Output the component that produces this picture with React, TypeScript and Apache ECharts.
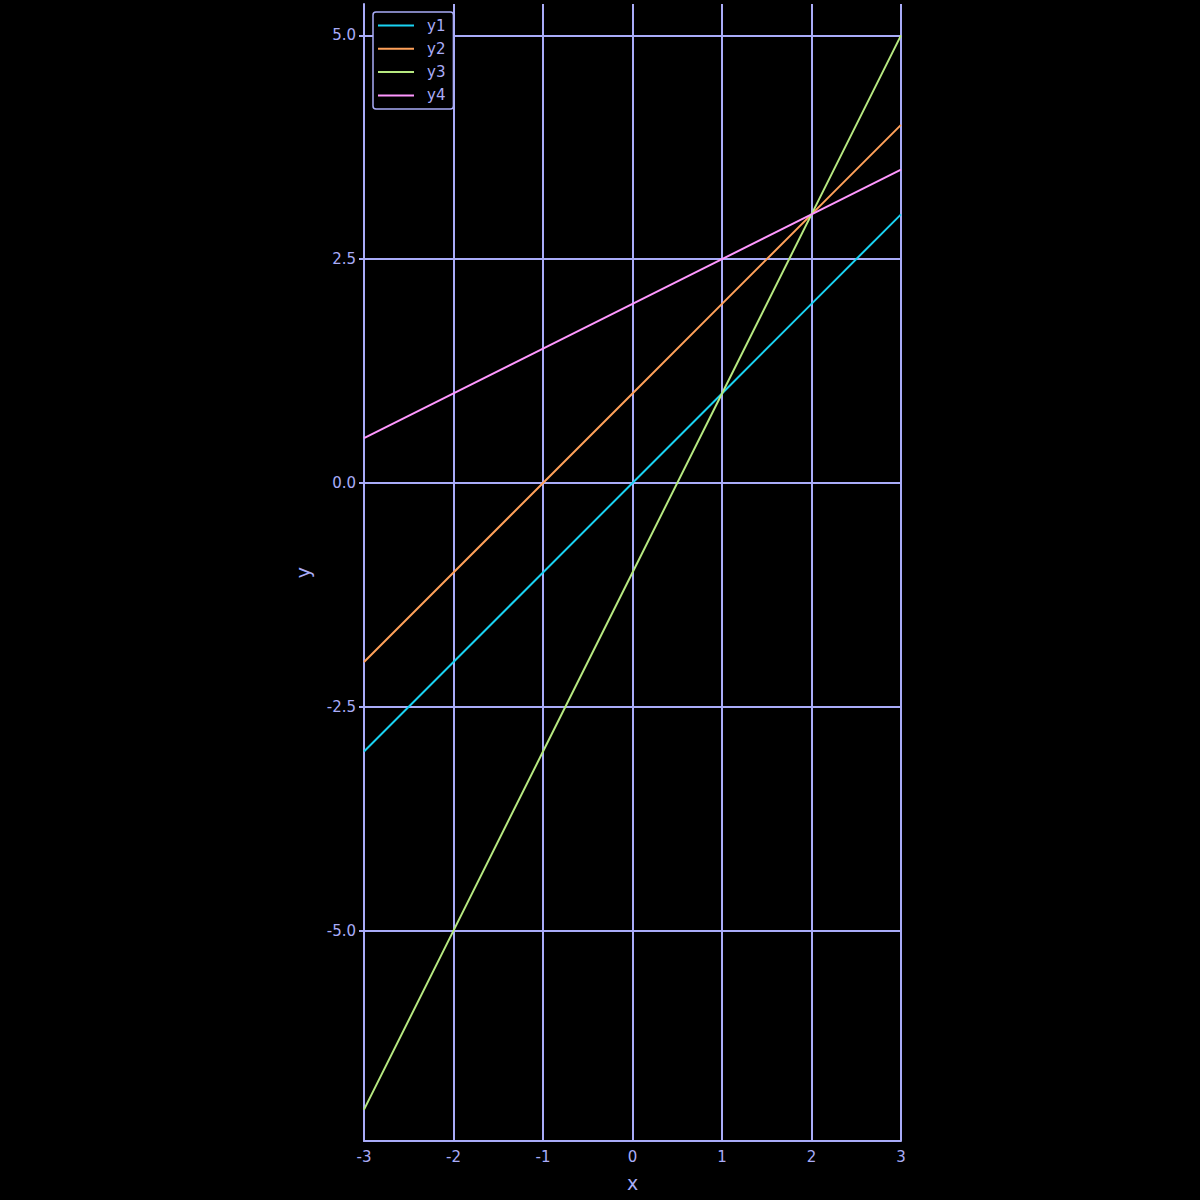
import React, { useEffect, useRef } from "react";
import * as echarts from "echarts";

const xValues = [-3, -2, -1, 0, 1, 2, 3];
const y1 = [-3, -2, -1, 0, 1, 2, 3];
const y2 = [-2, -1, 0, 1, 2, 3, 4];
const y3 = [-7, -5, -3, -1, 1, 3, 5];
const y4 = [0.5, 1, 1.5, 2, 2.5, 3, 3.5];
const seriesNames = ["y1", "y2", "y3", "y4"];
const seriesColors = ["#19d3f3", "#ffa15a", "#b6e880", "#ff97ff"];
const yTicks = [-5, -2.5, 0, 2.5, 5];

const AXIS = "#a9acf8";
const FONT = "DejaVu Sans";

export default function App() {
  const ref = useRef<HTMLDivElement>(null);
  useEffect(() => {
    const chart = echarts.init(ref.current!, null, { renderer: "svg" });
    const all = [y1, y2, y3, y4];
    chart.setOption({
      animation: false,
      backgroundColor: "#000000",
      textStyle: { fontFamily: FONT },
      grid: { left: 364, right: 299, top: 4, bottom: 59, containLabel: false },
      legend: {
        show: true,
        orient: "vertical",
        left: 373,
        top: 12,
        icon: "path://M0,0L36,0L36,2L0,2Z",
        itemWidth: 36,
        itemHeight: 2,
        itemGap: 8.3,
        padding: [6, 8, 6, 5],
        borderColor: AXIS,
        borderWidth: 1.5,
        borderRadius: 3,
        backgroundColor: "#000000",
        textStyle: { color: AXIS, fontSize: 15, fontFamily: FONT, padding: [0, 0, 0, 8] },
        data: seriesNames,
      },
      xAxis: {
        type: "value",
        min: -3,
        max: 3,
        interval: 1,
        name: "x",
        nameLocation: "middle",
        nameGap: 32,
        nameTextStyle: { color: AXIS, fontSize: 19, fontFamily: FONT },
        axisLine: { show: true, onZero: false, lineStyle: { color: AXIS, width: 2 } },
        axisTick: { show: false },
        axisLabel: { color: AXIS, fontSize: 15, margin: 8, fontFamily: FONT },
        splitLine: { show: true, lineStyle: { color: AXIS, width: 2 } },
      },
      yAxis: {
        type: "value",
        min: -7.35,
        max: 5.35,
        name: "y",
        nameLocation: "middle",
        nameGap: 52,
        nameTextStyle: { color: AXIS, fontSize: 19, fontFamily: FONT },
        axisLine: { show: true, onZero: false, lineStyle: { color: AXIS, width: 2 } },
        axisTick: { show: true, length: 5, lineStyle: { color: AXIS, width: 2 }, customValues: yTicks },
        axisLabel: {
          color: AXIS,
          fontSize: 15,
          margin: 8,
          fontFamily: FONT,
          customValues: yTicks,
          formatter: (v: number) => v.toFixed(1),
        },
        splitLine: { show: true, lineStyle: { color: AXIS, width: 2 } },
      },
      series: all.map((d, i) => ({
        name: seriesNames[i],
        type: "line",
        symbol: "none",
        color: seriesColors[i],
        lineStyle: { width: 2, color: seriesColors[i] },
        data: xValues.map((x, j) => [x, d[j]]),
      })),
    });
    return () => chart.dispose();
  }, []);
  return (
    <div
      ref={ref}
      style={{ position: "absolute", left: 0, top: 0, width: 1200, height: 1200 }}
    />
  );
}
